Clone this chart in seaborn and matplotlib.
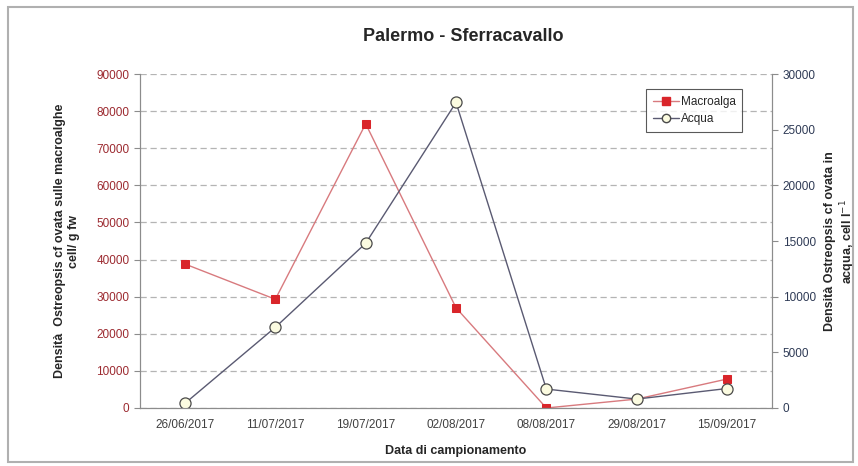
import pandas as pd
import matplotlib.pyplot as plt
import seaborn as sns
from matplotlib.lines import Line2D
from matplotlib.patches import Rectangle

# === DATA ===
dates = ["26/06/2017", "11/07/2017", "19/07/2017", "02/08/2017",
         "08/08/2017", "29/08/2017", "15/09/2017"]
macroalga = [38800, 29300, 76600, 27000, 0, 2400, 7800]   # cell/ g fw
acqua = [420, 7250, 14800, 27450, 1700, 800, 1750]         # cell l-1

df = pd.DataFrame({"data": dates, "macroalga": macroalga, "acqua": acqua})

# === PLOT ===
sns.set_style("white")
plt.rcParams["font.family"] = ["Liberation Sans", "DejaVu Sans"]

fig = plt.figure(figsize=(8.58, 4.66), dpi=100)
ax = fig.add_axes([0.163, 0.1245, 0.737, 0.7165])
ax2 = ax.twinx()

red = "#d9252a"
gray_line = "#5a5a72"

sns.lineplot(data=df, x="data", y="macroalga", ax=ax, sort=False,
             color="#d87a7e", linewidth=1.0, marker="s", markersize=5.5,
             markerfacecolor=red, markeredgecolor=red)
sns.lineplot(data=df, x="data", y="acqua", ax=ax2, sort=False,
             color=gray_line, linewidth=1.0, marker="o", markersize=8,
             markerfacecolor="#fbfbe0", markeredgecolor="#4a4a4a",
             markeredgewidth=0.9)

ax.set_xlim(-0.5, len(dates) - 0.5)
ax.set_ylim(0, 90000)
ax2.set_ylim(0, 30000)
ax.set_yticks(range(0, 90001, 10000))
ax2.set_yticks(range(0, 30001, 5000))

ax.yaxis.grid(True, linestyle=(0, (5, 3)), color="#b4b4b4", linewidth=0.9)
ax.set_axisbelow(True)

for a in (ax, ax2):
    for s in a.spines.values():
        s.set_color("#8c8c8c")
    a.spines["top"].set_visible(False)

ax.tick_params(axis="y", colors="#8c8c8c", labelcolor="#9c2a30",
               labelsize=8.5, length=4, direction="out")
ax2.tick_params(axis="y", colors="#8c8c8c", labelcolor="#2e3a55",
                labelsize=8.5, length=4, direction="out")
ax.tick_params(axis="x", labelsize=8.5, labelcolor="#404040", length=0, pad=8)

ax.set_xlabel("Data di campionamento", fontsize=9, fontweight="bold", labelpad=10)
ax.set_ylabel("Densità  Ostreopsis cf ovata sulle macroalghe\ncell/ g fw",
              fontsize=9, fontweight="bold", labelpad=12)
ax2.set_ylabel("Densità Ostreopsis cf ovata in\nacqua, cell l$^{-1}$",
               fontsize=9, fontweight="bold", labelpad=6, rotation=90)

fig.suptitle("Palermo - Sferracavallo", fontsize=13, fontweight="bold",
             x=0.54, y=0.94)

handles = [
    Line2D([], [], color="#d87a7e", marker="s", markersize=5.5,
           markerfacecolor=red, markeredgecolor=red, linewidth=1.0),
    Line2D([], [], color=gray_line, marker="o", markersize=6,
           markerfacecolor="#fbfbe0", markeredgecolor="#4a4a4a", linewidth=1.0),
]
leg = ax.legend(handles, ["Macroalga", "Acqua"], loc="upper right",
                bbox_to_anchor=(0.962, 0.972), fontsize=8.5, frameon=True,
                fancybox=False, handlelength=2.2, borderpad=0.55,
                labelspacing=0.45, handletextpad=0.2)
leg.get_frame().set_edgecolor("#303030")
leg.get_frame().set_linewidth(0.8)

# outer chart frame
fig.patches.append(Rectangle((0.009, 0.008), 0.985, 0.977,
                             transform=fig.transFigure, fill=False,
                             edgecolor="#b0b0b0", linewidth=1.5))

fig.savefig("out.png", dpi=100)
